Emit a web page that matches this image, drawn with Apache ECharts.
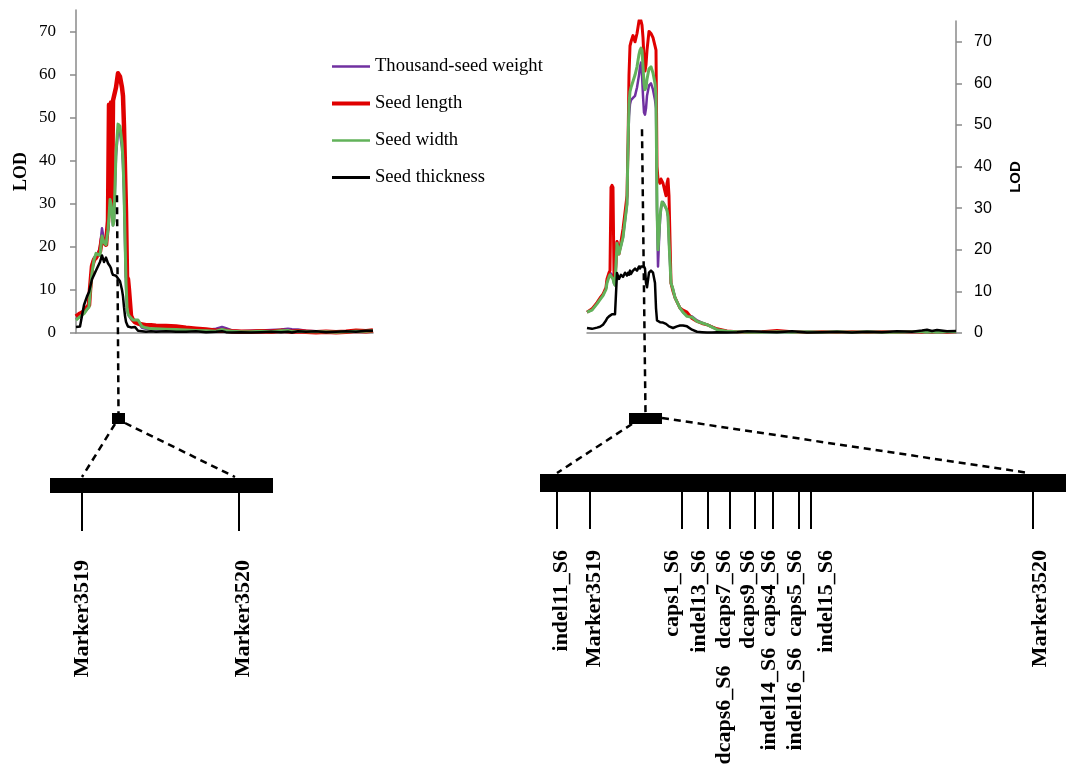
<!DOCTYPE html>
<html><head><meta charset="utf-8">
<script src="https://cdn.jsdelivr.net/npm/echarts@6/dist/echarts.min.js"></script>
<style>html,body{margin:0;padding:0;background:#fff}#c{width:1072px;height:765px}</style>
</head><body><div id="c"></div>
<script>
// ---------- data ----------
const seriesNames = ['Thousand-seed weight', 'Seed length', 'Seed width', 'Seed thickness'];
const yTicks = [0, 10, 20, 30, 40, 50, 60, 70];

// left linkage group: position along chromosome (arbitrary units)
const leftPos = [0,4,8,11,13,14,16,18,20,22,24,26,28,30,32,33,34,35,36,37,38,40,42,44,46,47,48,49,50,51,52,53,55,57,59,62,66,70,75,80,90,100,110,120,130,140,146,150,156,165,175,185,195,205,212,216,222,230,240,250,260,270,280,290,297];
const leftTSW = [3.2,4,4.8,5.5,6.5, 10,16,17.5,18,18.5, 20,24.3,21.5,20.5,24, 27,30,29.5,28,25, 26,41,47,46.5,43, 39,32,21,11,5.5, 4.5,4,3.2,2.8,3, 2.5,1.2,1.0,0.9,0.8, 0.8,0.7,0.6,0.6,0.7, 1.0,1.4,1.1,0.6,0.4, 0.5,0.6,0.7,0.8,1.0, 0.9,0.8,0.5,0.4,0.3, 0.3,0.3,0.4,0.4,0.5];
const leftSL  = [3.8,4.5,5.0,6.0,6.5, 10,15.5,17,17.5,17.5, 19,22,21,20.5,26, 53,30,53.5,28,54, 54,57,60.3,59.5,57, 55,48,38,28,13, 12.5,10,4,3,2.5, 2.2,2,1.8,1.8,1.7, 1.6,1.5,1.2,1.0,0.8, 0.5,0.6,0.5,0.4,0.3, 0.3,0.4,0.3,0.5,0.4, 0.3,0.4,0.3,0.2,0.3, 0.2,0.3,0.5,0.4,0.6];
const leftSW  = [3.0,3.8,4.5,5.5,6.0, 9,14,17,18.5,18.5, 18,22.5,21,20.5,24, 27,31,30,28,25, 26,42,48.5,48,44, 40,33,22,12,6, 4.5,4,3.5,3,3.2, 3,1.5,1.2,1.0,1.0, 0.9,0.8,0.7,0.6,0.5, 0.4,0.8,0.6,0.4,0.3, 0.3,0.4,0.3,0.5,0.6, 0.3,0.4,0.3,0.3,0.3, 0.2,0.3,0.4,0.4,0.5];
const leftST  = [1.4,1.5,6.5,8.5,9.5, 10.5,12.5,13.5,14.5,15.5, 16.5,18,16.5,17.5,16.2, 16.5,15.5,15,14,13.5, 13.4,13.3,13,12,10, 8.5,6,4,2.6,2, 1.5,1.2,1.3,1.6,1.4, 0.5,0.4,0.3,0.4,0.3, 0.4,0.3,0.3,0.4,0.2, 0.3,0.4,0.2,0.1,0.2, 0.1,0.2,0.3,0.2,0.3, 0.1,0.4,0.3,0.4,0.2, 0.3,0.4,0.3,0.5,0.5];

// right linkage group
const rightPos = [0,5,10,13,16,19,20,22,23,24,25,26,27,28,30,32,34,36,38,40,41,42,43,44,46,48,50,52,53,54,55,56,57,58,59,60,62,64,66,68,69,70,71,72,73,74,75,76,77,78,79,80,81,82,84,86,88,90,93,96,100,105,110,115,120,125,130,140,150,160,175,190,205,220,235,250,265,280,295,310,325,335,340,345,350,360,369];
const rightTSW = [5,5.6,7.2,8.2,9.2, 10.7,12.5,14,14.5,14.5, 14,13,12,11.5,22, 19.5,21,23,27,31, 44,52,55,56,56.5, 57,59,62,64,65, 62,57,53,52.5,54, 57,59.5,60,58.5,56, 54,30,16,22,27, 30,31,31.5,31,30.5, 30,29.5,28,22,12, 10.5,8.5,7.5,6,5, 4.2,4,3,2.5,2, 1.5,0.9,0.4,0.3,0.2, 0.2,0.3,0.2,0.3,0.2, 0.2,0.2,0.3,0.2,0.2, 0.2,0.3,0.2,0.2,0.3, 0.2,0.3];
const rightSL  = [5.0,5.8,7.3,8.4,9.3, 11,13,14.5,15,35, 35.5,35,13.5,12,22, 19,22,25,29,33, 45,62,69,70,71.5, 70,72,75,76,76, 74,71,66,63,64.5, 68,72.5,72,71,69, 68,40,37,36.5,36, 37,36.5,36,35,34, 33,36,37,33,12, 10,8.5,7.5,6,5.5, 5,3.5,2.8,2.3,2, 1.5,1.0,0.5,0.3,0.2, 0.3,0.6,0.3,0.2,0.3, 0.2,0.3,0.2,0.3,0.2, 0.3,0.2,0.3,0.2,0.3, 0.2,0.3];
const rightSW  = [5,5.5,7,8,9, 10.5,12,13.5,14,14.2, 14,13,12,11.5,21.5, 19,21,23,27,31, 45,55,58,59,60.5, 62,64,67,68,68.5, 68,64,60,58.5,59, 61,63.5,64,62.5,60, 57,30,20,24,28, 30,31.5,31.5,31,30.5, 30,29.5,28,22,12, 10.5,8.5,7.5,6,5, 4,3.8,2.8,2.4,2, 1.4,0.8,0.4,0.3,0.2, 0.2,0.3,0.2,0.3,0.2, 0.3,0.2,0.3,0.2,0.2, 0.3,0.3,0.2,0.3,0.2, 0.3,0.3];
const rightST  = [1.2,1.0,1.3,1.5,2, 3,3.5,4,4,4.2, 4.5,4.3,4.5,4.5,14.4, 13,14,13.5,14.5,13.8, 14.5,14,15,14.2,15, 15.5,15,16,15.5,16, 15.8,16,16,15.5,12, 11,14.5,15,14.5,12, 6,3,2.8,2.7,2.6, 2.6,2.5,2.5,2.4,2.3, 2.2,2.0,1.8,1.6,1.4, 1.2,1.4,1.6,1.8,1.8, 1.6,0.8,0.3,0.2,0.1, 0.1,0.2,0.1,0.2,0.4, 0.3,0.2,0.4,0.1,0.2, 0.3,0.1,0.3,0.2,0.4, 0.3,0.6,0.8,0.5,0.7, 0.4,0.5];

// QTL peaks / intervals (position, LOD)
const leftQtlPeak = [41, 32];
const leftQtlInterval = [36, 49];
const rightQtlPeak = [55, 49];
const rightQtlInterval = [42, 75];

// fine-mapping marker maps (physical position, arbitrary units)
const leftChromSpan = [0, 223];
const leftMarkerNames = ['Marker3519', 'Marker3520'];
const leftMarkerPos = [32, 189];
const rightChromSpan = [0, 526];
const rightMarkerNames = ['indel11_S6', 'Marker3519', 'caps1_S6', 'indel13_S6', 'dcaps6_S6   dcaps7_S6', 'dcaps9_S6', 'indel14_S6  caps4_S6', 'indel16_S6  caps5_S6', 'indel15_S6', 'Marker3520'];
const rightMarkerPos = [17, 50, 142, 168, 190, 215, 233, 259, 271, 493];

// ---------- layout / style ----------
const leftLabelNudge = [0, 4];
const rightLabelNudge = [4, 4, -10, -9, -6, -7, -4, -4, 15, 7];
const colors = ['#7030A0', '#E00000', '#62B25A', '#000000'];
const serif = '"Liberation Serif", "Times New Roman", serif';
const sans = '"Liberation Sans", Arial, sans-serif';
const axisGray = '#8a8a8a';

const zip = (xs, ys) => xs.map((x, i) => [x, ys[i]]);
const leftVals = [leftTSW, leftSL, leftSW, leftST];
const rightVals = [rightTSW, rightSL, rightSW, rightST];
const leftWidths = [2.5, 4.5, 3, 2.5];
const rightWidths = [2.5, 3, 3, 2.5];
const legendWidths = [2.5, 4, 2.5, 3];

const chart = echarts.init(document.getElementById('c'), null, {renderer: 'canvas'});

function lodSeries(idx, vals, pos, widths) {
  return vals.map((v, k) => ({
    name: seriesNames[k], type: 'line', xAxisIndex: idx, yAxisIndex: idx,
    data: zip(pos, v), symbol: 'none', smooth: false, silent: true,
    lineStyle: {color: colors[k], width: widths[k], join: 'round'},
    itemStyle: {color: colors[k]}, z: 2 + k
  }));
}

function chromSeries(idx, span) {
  return {
    type: 'custom', xAxisIndex: idx, yAxisIndex: idx, clip: false, silent: true,
    data: [[span[0], span[1]]],
    renderItem(params, api) {
      const a = api.coord([api.value(0), 1]);
      const b = api.coord([api.value(1), 0]);
      return {type: 'rect', shape: {x: a[0], y: a[1], width: b[0] - a[0], height: b[1] - a[1]}, style: {fill: '#000'}};
    }
  };
}

function markerSeries(idx, names, pos, nudges, tickLen, labelGap) {
  return {
    type: 'custom', xAxisIndex: idx, yAxisIndex: idx, clip: false, silent: true,
    data: pos.map((p, i) => [p, 0, i]),
    renderItem(params, api) {
      const i = api.value(2);
      const pt = api.coord([api.value(0), 0]);
      return {type: 'group', children: [
        {type: 'line', shape: {x1: pt[0], y1: pt[1], x2: pt[0], y2: pt[1] + tickLen}, style: {stroke: '#000', lineWidth: 2}},
        {type: 'text', x: pt[0] + nudges[i], y: pt[1] + labelGap, rotation: Math.PI / 2,
         style: {text: names[i], font: 'bold 22px ' + serif, fill: '#000', align: 'right', verticalAlign: 'middle'}}
      ]};
    }
  };
}

const lodYAxis = (pos, font, size, nameFont, nameSize, gap, margin) => ({
  type: 'value', gridIndex: pos === 'left' ? 0 : 1, position: pos, min: 0, max: 75,
  name: 'LOD', nameLocation: 'middle', nameGap: gap, nameRotate: 90,
  nameTextStyle: {fontFamily: nameFont, fontSize: nameSize, fontWeight: 'bold', color: '#000'},
  axisLine: {show: true, onZero: false, lineStyle: {color: axisGray, width: 1.5}},
  axisTick: {show: true, length: 6, customValues: yTicks, lineStyle: {color: axisGray, width: 1.5}},
  axisLabel: {customValues: yTicks, fontFamily: font, fontSize: size, color: '#000', margin: margin},
  splitLine: {show: false}
});

const hiddenAxis = (g, span) => ({type: 'value', gridIndex: g, min: span[0], max: span[1], show: false});

const option = {
  animation: false,
  backgroundColor: '#fff',
  grid: [
    {left: 76, top: 10, width: 297, height: 323},
    {left: 587, top: 21, width: 369, height: 312},
    {left: 50, top: 478, width: 223, height: 15},
    {left: 540, top: 474, width: 526, height: 18}
  ],
  xAxis: [
    {type: 'value', gridIndex: 0, min: 0, max: leftPos[leftPos.length - 1], axisLine: {lineStyle: {color: axisGray, width: 1.5}}, axisTick: {show: false}, axisLabel: {show: false}, splitLine: {show: false}},
    {type: 'value', gridIndex: 1, min: 0, max: rightPos[rightPos.length - 1], axisLine: {lineStyle: {color: axisGray, width: 1.5}}, axisTick: {show: false}, axisLabel: {show: false}, splitLine: {show: false}},
    hiddenAxis(2, leftChromSpan),
    hiddenAxis(3, rightChromSpan)
  ],
  yAxis: [
    lodYAxis('left', serif, 17, serif, 18, 46, 20),
    lodYAxis('right', sans, 16, sans, 15, 52, 18),
    hiddenAxis(2, [0, 1]),
    hiddenAxis(3, [0, 1])
  ],
  legend: {
    orient: 'vertical', left: 330, top: 57, padding: 0, itemWidth: 38, itemHeight: 14, itemGap: 18,
    itemStyle: {opacity: 0},
    textStyle: {fontFamily: serif, fontSize: 18.6, color: '#000'},
    data: seriesNames.map((n, k) => ({name: n, lineStyle: {width: legendWidths[k]}})),
    selectedMode: false
  },
  series: [
    ...lodSeries(0, leftVals, leftPos, leftWidths),
    ...lodSeries(1, rightVals, rightPos, rightWidths),
    chromSeries(2, leftChromSpan),
    chromSeries(3, rightChromSpan),
    markerSeries(2, leftMarkerNames, leftMarkerPos, leftLabelNudge, 38, 67),
    markerSeries(3, rightMarkerNames, rightMarkerPos, rightLabelNudge, 37, 58)
  ]
};
chart.setOption(option);

// ---------- annotation connectors derived from the axes ----------
function connectors(g, barG, peak, interval, markerPos, markerSpanTop) {
  const pk = chart.convertToPixel({xAxisIndex: g, yAxisIndex: g}, peak);
  const b0 = chart.convertToPixel({xAxisIndex: g, yAxisIndex: g}, [interval[0], 0]);
  const b1 = chart.convertToPixel({xAxisIndex: g, yAxisIndex: g}, [interval[1], 0]);
  const boxTop = b0[1] + 80, boxH = 11;
  const m0 = chart.convertToPixel({xAxisIndex: barG, yAxisIndex: barG}, [markerPos[0], 1]);
  const m1 = chart.convertToPixel({xAxisIndex: barG, yAxisIndex: barG}, [markerPos[markerPos.length - 1], 1]);
  const dash = {stroke: '#000', lineWidth: 2.5, lineDash: [7, 5]};
  const cx = (b0[0] + b1[0]) / 2;
  return [
    {type: 'line', z: 100, shape: {x1: pk[0], y1: pk[1], x2: cx, y2: boxTop}, style: dash},
    {type: 'rect', z: 100, shape: {x: b0[0], y: boxTop, width: b1[0] - b0[0], height: boxH}, style: {fill: '#000'}},
    {type: 'line', z: 100, shape: {x1: b0[0] + 3, y1: boxTop + boxH, x2: m0[0], y2: m0[1] - 1}, style: dash},
    {type: 'line', z: 100, shape: {x1: b1[0], y1: boxTop + markerSpanTop, x2: m1[0] - 4, y2: m1[1] - 1}, style: dash}
  ];
}
chart.setOption({graphic: [
  ...connectors(0, 2, leftQtlPeak, leftQtlInterval, leftMarkerPos, 10),
  ...connectors(1, 3, rightQtlPeak, rightQtlInterval, rightMarkerPos, 5)
]});
</script></body></html>
